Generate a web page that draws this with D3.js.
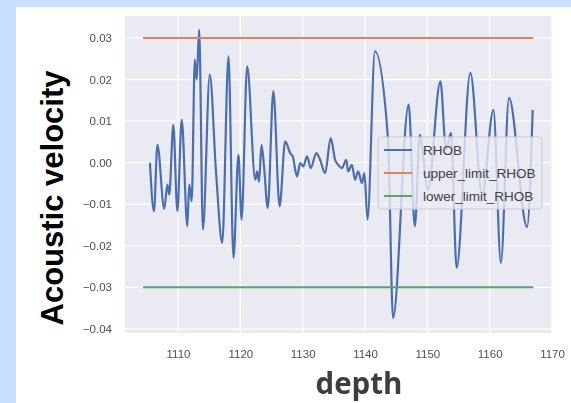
<!DOCTYPE html>
<html lang="en">
	<head>
		<meta charset="utf-8">
		<title>Acoustic velocity vs depth</title>
		<script type="text/javascript" src="https://d3js.org/d3.v7.min.js"></script>
		<style>
			html, body { margin: 0; padding: 0; background: #c9e0fd; }
			svg { display: block; }
		</style>
	</head>
	<body>
		<script type="text/javascript">

			// RHOB trace (depth, value)
			var depth = [1105.5, 1106.15, 1106.7, 1107.8, 1108.3, 1108.6, 1109.25, 1109.9, 1110.6, 1111.5,
				1111.8, 1112.2, 1112.7, 1113.0, 1113.4, 1114.0, 1115.1, 1116.1, 1117.1, 1118.1,
				1118.9, 1119.7, 1120.2, 1121.1, 1122.4, 1122.7, 1123.0, 1123.4, 1123.8, 1124.4,
				1125.3, 1126.3, 1127.2, 1128.0, 1128.4, 1129.1, 1129.6, 1130.1, 1130.7, 1131.3,
				1132.2, 1132.8, 1133.6, 1134.5, 1135.2, 1135.7, 1136.3, 1137.0, 1137.3, 1137.9,
				1138.4, 1138.9, 1139.5, 1139.9, 1140.4, 1141.6, 1143.7, 1144.5, 1147.0, 1148.0,
				1148.8, 1150.1, 1152.1, 1153.0, 1153.8, 1154.7, 1156.9, 1158.8, 1160.6, 1161.8,
				1163.1, 1166.0, 1166.9];
			var rhob = [0.0, -0.0117, 0.0043, -0.0111, -0.0053, -0.0077, 0.0091, -0.0117, 0.0103, -0.0153,
				-0.0053, -0.0093, 0.0248, 0.0200, 0.0320, -0.0161, 0.0212, -0.0022, -0.0193, 0.0256,
				-0.0229, 0.0019, -0.0137, 0.0232, -0.0041, -0.0021, -0.0046, 0.0043, -0.0009, -0.0109,
				0.0172, -0.0105, 0.0051, 0.0023, 0.0015, -0.0033, -0.0001, -0.0009, 0.0015, -0.0013,
				0.0023, 0.0007, -0.0025, 0.0059, 0.0007, -0.0005, -0.0013, 0.0007, -0.0021, -0.0005,
				-0.0041, -0.0021, -0.0049, -0.0025, -0.0137, 0.0268, 0.0055, -0.0374, 0.0140, -0.0153,
				0.0067, -0.0065, 0.0196, 0.0031, 0.0072, -0.0253, 0.0216, -0.0077, 0.0127, -0.0241,
				0.0156, -0.0155, 0.0127];

			// limit lines
			var limitDepth = [1104.4, 1167.0];
			var upperLimit = [0.03, 0.03];
			var lowerLimit = [-0.03, -0.03];

			// ticks and labels
			var xTicks = [1110, 1120, 1130, 1140, 1150, 1160, 1170];
			var yTicks = [0.03, 0.02, 0.01, 0.00, -0.01, -0.02, -0.03, -0.04];
			var seriesNames = ["RHOB", "upper_limit_RHOB", "lower_limit_RHOB"];
			var seriesColors = ["#4a6fb0", "#dd8452", "#55a868"];

			var w = 571;
			var h = 403;

			var svg = d3.select("body")
						.append("svg")
						.attr("width", w)
						.attr("height", h);

			// blue page + white card
			svg.append("rect").attr("width", w).attr("height", h).attr("fill", "#c9e0fd");
			svg.append("rect").attr("x", 16).attr("y", 7).attr("width", w - 16).attr("height", h - 7).attr("fill", "#ffffff");

			var xScale = d3.scaleLinear().domain([1101.5, 1170]).range([125, 552]);
			var yScale = d3.scaleLinear().domain([-0.041, 0.0353]).range([333, 16]);

			var chart = svg.append("g").style("filter", "blur(0.35px)");

			// axes background
			chart.append("rect")
				.attr("x", xScale.range()[0])
				.attr("y", yScale.range()[1])
				.attr("width", xScale.range()[1] - xScale.range()[0])
				.attr("height", yScale.range()[0] - yScale.range()[1])
				.attr("fill", "#eaeaf2");

			// grid
			chart.append("g").selectAll("line").data(xTicks).enter().append("line")
				.attr("x1", function(d) { return xScale(d); })
				.attr("x2", function(d) { return xScale(d); })
				.attr("y1", yScale.range()[1]).attr("y2", yScale.range()[0])
				.attr("stroke", "#ffffff").attr("stroke-width", 1.2);
			chart.append("g").selectAll("line").data(yTicks).enter().append("line")
				.attr("y1", function(d) { return yScale(d); })
				.attr("y2", function(d) { return yScale(d); })
				.attr("x1", xScale.range()[0]).attr("x2", xScale.range()[1])
				.attr("stroke", "#ffffff").attr("stroke-width", 1.2);

			// axes (labels only, seaborn style)
			var xAxis = d3.axisBottom(xScale).tickValues(xTicks).tickSize(0).tickPadding(17).tickFormat(d3.format("d"));
			var yAxis = d3.axisLeft(yScale).tickValues(yTicks).tickSize(0).tickPadding(13).tickFormat(d3.format(".2f"));

			var gx = chart.append("g").attr("transform", "translate(0,333)").call(xAxis);
			var gy = chart.append("g").attr("transform", "translate(125,0)").call(yAxis);
			[gx, gy].forEach(function(g) {
				g.select(".domain").remove();
				g.selectAll("text")
					.attr("fill", "#505050")
					.style("font-family", "'Liberation Sans', Arial, sans-serif")
					.style("font-size", "11.5px");
			});

			// lines
			var rhobData = depth.map(function(d, i) { return { x: d, y: rhob[i] }; });
			var upperData = limitDepth.map(function(d, i) { return { x: d, y: upperLimit[i] }; });
			var lowerData = limitDepth.map(function(d, i) { return { x: d, y: lowerLimit[i] }; });

			var line = d3.line()
						.x(function(d) { return xScale(d.x); })
						.y(function(d) { return yScale(d.y); })
						.curve(d3.curveMonotoneX);

			chart.append("path").datum(rhobData).attr("d", line)
				.attr("fill", "none").attr("stroke", seriesColors[0]).attr("stroke-width", 2.2).attr("stroke-linejoin", "round");
			chart.append("path").datum(upperData).attr("d", line)
				.attr("fill", "none").attr("stroke", seriesColors[1]).attr("stroke-width", 2);
			chart.append("path").datum(lowerData).attr("d", line)
				.attr("fill", "none").attr("stroke", seriesColors[2]).attr("stroke-width", 2);

			// legend
			var legend = chart.append("g").attr("transform", "translate(378,137)");
			legend.append("rect")
				.attr("width", 164).attr("height", 72).attr("rx", 3)
				.attr("fill", "#eaeaf2").attr("fill-opacity", 0.8)
				.attr("stroke", "#cccccc").attr("stroke-width", 1);
			var items = legend.selectAll("g.item").data(seriesNames).enter().append("g")
				.attr("transform", function(d, i) { return "translate(0," + (13 + i * 23) + ")"; });
			items.append("line")
				.attr("x1", 6).attr("x2", 34).attr("y1", 0).attr("y2", 0)
				.attr("stroke", function(d, i) { return seriesColors[i]; })
				.attr("stroke-width", 2);
			items.append("text")
				.attr("x", 45).attr("y", 0).attr("dy", "0.35em")
				.attr("fill", "#404040")
				.style("font-family", "'Liberation Sans', Arial, sans-serif")
				.style("font-size", "13.5px")
				.text(function(d) { return d; });

			// axis titles
			svg.append("text")
				.attr("transform", "translate(63,198) rotate(-90)")
				.attr("text-anchor", "middle")
				.attr("fill", "#000000")
				.style("font-family", "'Liberation Sans', Arial, sans-serif")
				.style("font-weight", "bold")
				.style("font-size", "31px")
				.text("Acoustic velocity");

			svg.append("text")
				.attr("x", 359)
				.attr("y", 394)
				.attr("text-anchor", "middle")
				.attr("fill", "#3d3d3d")
				.style("font-family", "'Open Sans', sans-serif")
				.style("font-weight", "bold")
				.style("font-size", "29.5px")
				.text("depth");

		</script>
	</body>
</html>
